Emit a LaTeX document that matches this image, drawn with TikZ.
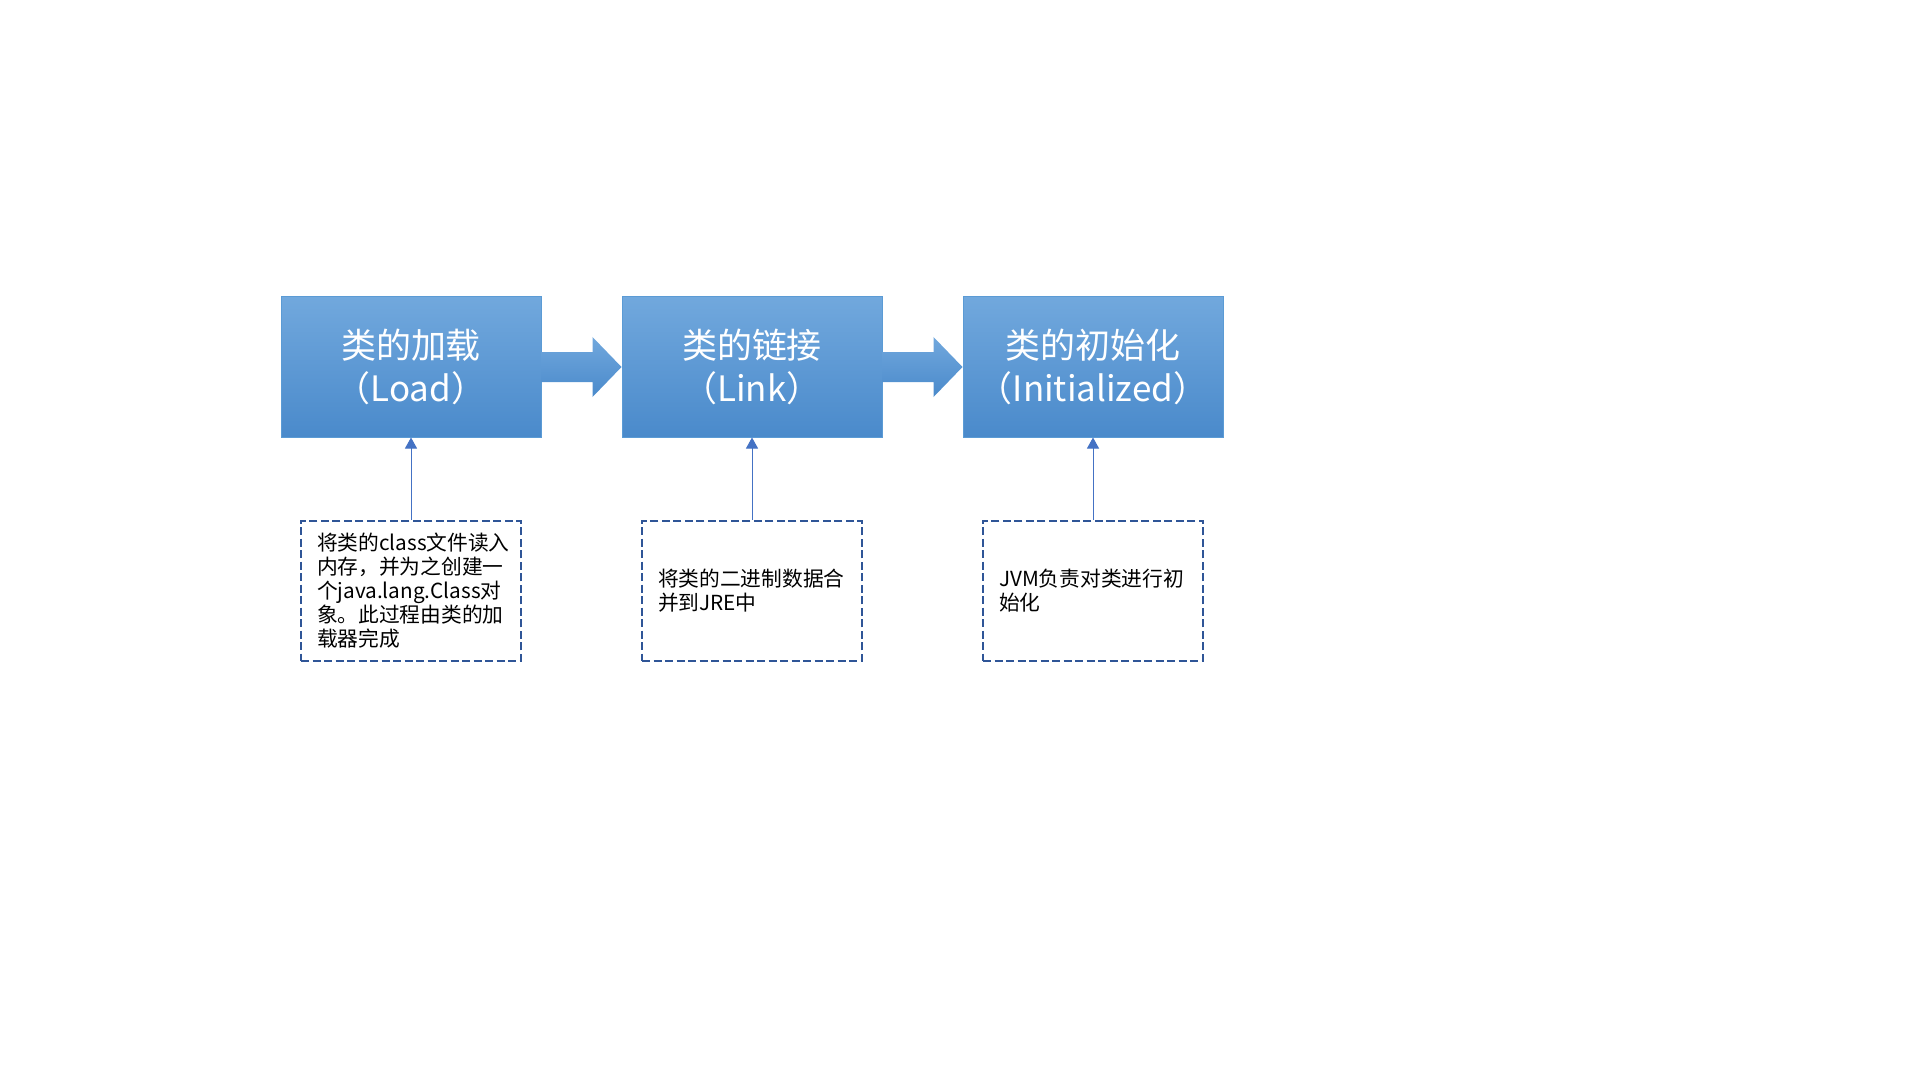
\documentclass[tikz,border=0pt]{standalone}
\usepackage{fontspec}
\setmainfont{Noto Sans CJK SC}
\usetikzlibrary{arrows.meta}
\usetikzlibrary{positioning}
\usetikzlibrary{calc}
\definecolor{boxtop}{HTML}{71A8DD}
\definecolor{boxbottom}{HTML}{4A8ACB}
\definecolor{boxline}{HTML}{5B9BD5}
\definecolor{noteline}{HTML}{2F5597}
\definecolor{linkline}{HTML}{4472C4}
\tikzset{
	stage/.style={draw=boxline,line width=0.02cm,top color=boxtop,bottom color=boxbottom,minimum width=5.2cm,minimum height=2.8cm,inner sep=0pt,align=center,text=white,font=\fontsize{19.9pt}{24.5pt}\selectfont},
	note/.style={draw=noteline,line width=0.04cm,dash pattern=on 0.16cm off 0.07cm,minimum width=4.4cm,minimum height=2.8cm,inner xsep=0.32cm,text width=3.76cm,align=left,font=\fontsize{11.8pt}{13.7pt}\selectfont},
	uparrow/.style={draw=linkline,line width=0.02cm,-{Triangle[width=0.24cm,length=0.22cm]}},
	flow/.style={top color=boxtop,bottom color=boxbottom}
}
\begin{document}
\begin{tikzpicture}
	\useasboundingbox (0,0) rectangle (38.4,-21.6);
	\node[stage] (load) at (8.22,-7.34) {类的加载\\（Load）};
	\node[stage,right=1.6cm of load] (link) {类的链接\\（Link）};
	\node[stage,right=1.6cm of link] (init) {类的初始化\\（Initialized）};
	
	\foreach \a/\b in {load/link,link/init}
	\path[flow] ($(\a.east)+(0,0.3)$) -- ($(\b.west)+(-0.58,0.3)$) -- ($(\b.west)+(-0.58,0.6)$) -- (\b.west) -- ($(\b.west)+(-0.58,-0.6)$) -- ($(\b.west)+(-0.58,-0.3)$) -- ($(\a.east)+(0,-0.3)$) -- cycle;
	
	\node[note,below=1.64cm of load] (loadnote) {将类的class文件读入\\内存，并为之创建一\\个java.lang.Class对\\象。此过程由类的加\\载器完成};
	\node[note,below=1.64cm of link] (linknote) {将类的二进制数据合\\并到JRE中};
	\node[note,below=1.64cm of init] (initnote) {JVM负责对类进行初\\始化};
	
	\draw[uparrow] (loadnote) -- (load);
	\draw[uparrow] (linknote) -- (link);
	\draw[uparrow] (initnote) -- (init);
\end{tikzpicture}
\end{document}
